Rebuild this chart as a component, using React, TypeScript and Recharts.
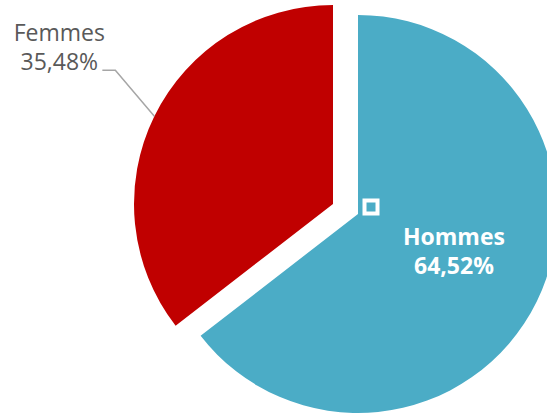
import React from 'react';
import { PieChart, Pie, Cell } from 'recharts';

const categories = ['Hommes', 'Femmes'];
const values = [64.52, 35.48];
const colors = ['#4BACC6', '#C00000'];

const data = categories.map((name, i) => ({ name, value: values[i] }));

const RAD = Math.PI / 180;
const FONT = "'Century Gothic', 'Open Sans', sans-serif";
const fmt = (v: number) => v.toFixed(2).replace('.', ',') + '%';

const HommesLabel = (props: any) => {
  const { cx, cy, midAngle, outerRadius, index, value, name } = props;
  if (index !== 0) return <g />;
  const r = outerRadius * 0.537;
  const x = cx + r * Math.cos(-midAngle * RAD);
  const y = cy + r * Math.sin(-midAngle * RAD);
  return (
    <g>
      <rect x={cx + 6.5} y={cy - 13.5} width={13} height={13} fill={colors[0]} stroke="#ffffff" strokeWidth={4} />
      <text x={x} y={y - 16} textAnchor="middle" fill="#ffffff" fontFamily={FONT} fontWeight="bold" fontSize={23}>
        {name}
      </text>
      <text x={x} y={y + 13} textAnchor="middle" fill="#ffffff" fontFamily={FONT} fontWeight="bold" fontSize={23}>
        {fmt(value)}
      </text>
    </g>
  );
};

const FemmesLabel = (props: any) => {
  const { cx, cy, midAngle, outerRadius, index, value, name } = props;
  if (index !== 1) return <g />;
  const ex = cx + outerRadius * Math.cos(-midAngle * RAD);
  const ey = cy + outerRadius * Math.sin(-midAngle * RAD);
  const bx = ex - 39;
  const by = ey - 46;
  const tx = bx - 13;
  const textX = tx - 43;
  return (
    <g>
      <polyline points={`${ex},${ey} ${bx},${by} ${tx},${by}`} fill="none" stroke="#A6A6A6" strokeWidth={1.5} />
      <text x={textX} y={by - 29} textAnchor="middle" fill="#595959" fontFamily={FONT} fontSize={23}>
        {name}
      </text>
      <text x={textX} y={by} textAnchor="middle" fill="#595959" fontFamily={FONT} fontSize={23}>
        {fmt(value)}
      </text>
    </g>
  );
};

export default function App() {
  return (
    <div style={{ position: 'absolute', left: 0, top: 0 }}>
      <PieChart width={547} height={417} margin={{ top: 0, right: 0, bottom: 0, left: 0 }}>
        <Pie
          data={data}
          dataKey="value"
          nameKey="name"
          cx={333}
          cy={204}
          outerRadius={199}
          startAngle={90}
          endAngle={-270}
          stroke="none"
          isAnimationActive={false}
          labelLine={false}
          label={FemmesLabel}
        >
          {data.map((d, i) => (
            <Cell key={d.name} fill={i === 1 ? colors[1] : 'transparent'} stroke="none" />
          ))}
        </Pie>
        <Pie
          data={data}
          dataKey="value"
          nameKey="name"
          cx={358}
          cy={214}
          outerRadius={199}
          startAngle={90}
          endAngle={-270}
          stroke="none"
          isAnimationActive={false}
          labelLine={false}
          label={HommesLabel}
        >
          {data.map((d, i) => (
            <Cell key={d.name} fill={i === 0 ? colors[0] : 'transparent'} stroke="none" />
          ))}
        </Pie>
      </PieChart>
    </div>
  );
}
